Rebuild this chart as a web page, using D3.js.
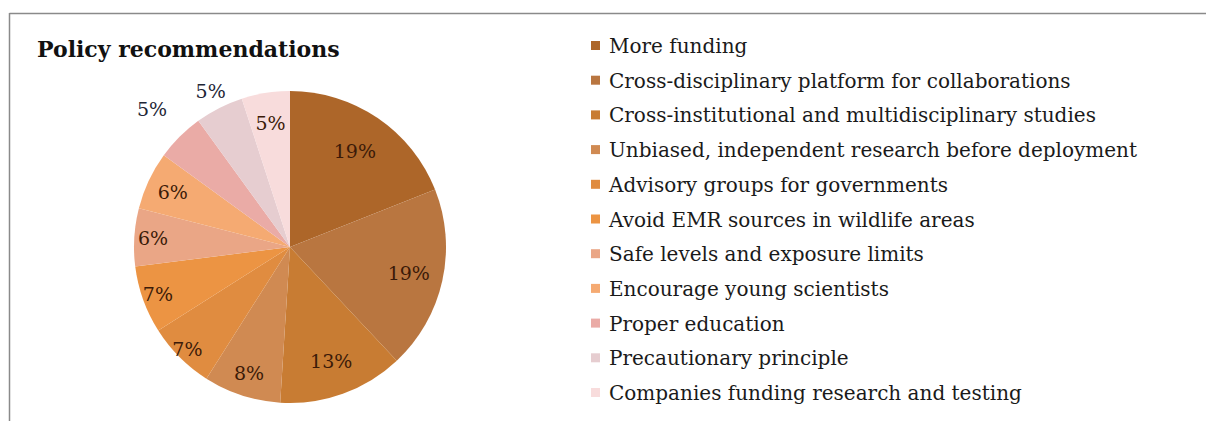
<!DOCTYPE html>
<html>
<head>
<meta charset="utf-8">
<script src="https://cdn.jsdelivr.net/npm/d3@7"></script>
<style>
  html, body { margin: 0; padding: 0; background: #fff; }
  svg { display: block; }
</style>
</head>
<body>
<svg id="chart" width="1206" height="421"></svg>
<script>
// ---- data ----
const categories = [
  "More funding",
  "Cross-disciplinary platform for collaborations",
  "Cross-institutional and multidisciplinary studies",
  "Unbiased, independent research before deployment",
  "Advisory groups for governments",
  "Avoid EMR sources in wildlife areas",
  "Safe levels and exposure limits",
  "Encourage young scientists",
  "Proper education",
  "Precautionary principle",
  "Companies funding research and testing"
];
const values = [19, 19, 13, 8, 7, 7, 6, 6, 5, 5, 5];
const title = "Policy recommendations";

// ---- styles ----
const colors = [
  "#ad6629", "#b97640", "#c87c33", "#d08a52", "#e08c40", "#ec9443",
  "#eaa686", "#f5aa72", "#eaaba6", "#e6cdd0", "#f8dcdc"
];
// label distance from centre as a fraction of the radius (Excel best-fit look)
const labelRadius = [0.74, 0.78, 0.78, 0.85, 0.93, 0.9, 0.88, 0.83, 1.25, 1.12, 0.8];
const labelColor = ["#3b1a08","#3b1a08","#3b1a08","#3b1a08","#3b1a08","#3b1a08","#3b1a08","#3b1a08","#1e2636","#1e2636","#3b1a08"];

const svg = d3.select("#chart");
const W = 1206, H = 421;
const serif = "'DejaVu Serif', 'Liberation Serif', serif";

// frame
svg.append("line").attr("x1", 9.5).attr("x2", W).attr("y1", 13.5).attr("y2", 13.5)
  .attr("stroke", "#8a8a8a").attr("stroke-width", 1.5);
svg.append("line").attr("x1", 9.5).attr("x2", 9.5).attr("y1", 13).attr("y2", H)
  .attr("stroke", "#8a8a8a").attr("stroke-width", 1.5);

// title
svg.append("text").attr("x", 37).attr("y", 57)
  .attr("font-family", serif).attr("font-weight", "bold").attr("font-size", 22)
  .attr("fill", "#111").text(title);

// pie
const cx = 290, cy = 247, R = 156;
const pie = d3.pie().sort(null).value(d => d)(values);
const arc = d3.arc().innerRadius(0).outerRadius(R);
const g = svg.append("g").attr("transform", `translate(${cx},${cy})`);
g.selectAll("path").data(pie).join("path")
  .attr("d", arc)
  .attr("fill", (d, i) => colors[i]);

g.selectAll("text.lbl").data(pie).join("text")
  .attr("class", "lbl")
  .attr("transform", (d, i) => {
    const a = (d.startAngle + d.endAngle) / 2;
    const r = R * labelRadius[i];
    return `translate(${Math.sin(a) * r},${-Math.cos(a) * r})`;
  })
  .attr("text-anchor", "middle").attr("dy", "0.35em")
  .attr("font-family", serif).attr("font-size", 19)
  .attr("fill", (d, i) => labelColor[i])
  .text(d => d3.format(".0f")(d.data) + "%");

// legend
const ly = d3.scalePoint().domain(categories).range([46, 393]);
const leg = svg.append("g");
const items = leg.selectAll("g").data(categories).join("g")
  .attr("transform", d => `translate(0,${ly(d)})`);
items.append("rect").attr("x", 591).attr("y", -5).attr("width", 9).attr("height", 9)
  .attr("fill", (d, i) => colors[i]);
items.append("text").attr("x", 609).attr("dy", "0.35em")
  .attr("font-family", serif).attr("font-size", 20).attr("fill", "#1a1a1a")
  .text(d => d);
</script>
</body>
</html>
